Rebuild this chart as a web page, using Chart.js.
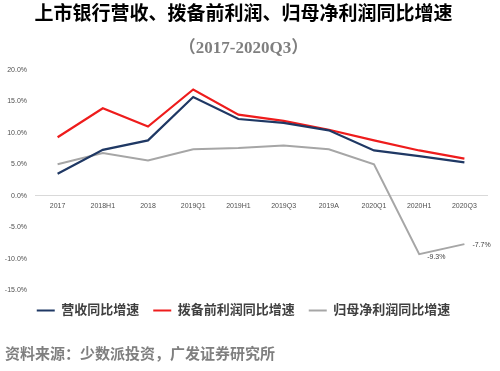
<!DOCTYPE html>
<html>
<head>
<meta charset="utf-8">
<script src="https://cdn.jsdelivr.net/npm/chart.js@4.4.0/dist/chart.umd.min.js"></script>
<style>
  html, body { margin: 0; padding: 0; background: #fff; }
  #wrap { position: relative; width: 500px; height: 371px; }
  #source {
    position: absolute; left: 5px; top: 342px;
    font: bold 15px 'Liberation Serif', 'Noto Sans CJK SC', serif;
    color: #7f7f7f; white-space: nowrap;
  }
</style>
</head>
<body>
<div id="wrap">
  <canvas id="myChart" width="500" height="371"></canvas>
  <div id="source">资料来源：少数派投资，广发证券研究所</div>
</div>
<script>
// categories and series (%)
var periods = ["2017", "2018H1", "2018", "2019Q1", "2019H1", "2019Q3", "2019A", "2020Q1", "2020H1", "2020Q3"];
var revenue = [3.5, 7.3, 8.8, 15.7, 12.2, 11.6, 10.4, 7.2, 6.3, 5.3];
var preProvision = [9.3, 13.9, 11.0, 16.9, 12.9, 11.9, 10.5, 8.8, 7.2, 5.9];
var netProfit = [5.0, 6.8, 5.6, 7.4, 7.6, 8.0, 7.4, 5.0, -9.3, -7.7];
var seriesNames = ["营收同比增速", "拨备前利润同比增速", "归母净利润同比增速"];
var yTicks = [-15, -10, -5, 0, 5, 10, 15, 20];
// points of the net profit series that carry a value label
var labelled = [8, 9];

var serifCJK = "'Liberation Serif', 'Noto Sans CJK SC', serif";

// value labels on the last two points of the grey line
var pointLabels = {
    id: 'pointLabels',
    afterDatasetsDraw: function(chart) {
        var meta = chart.getDatasetMeta(2);
        var ctx = chart.ctx;
        ctx.save();
        ctx.font = "7px 'Liberation Sans', sans-serif";
        ctx.fillStyle = '#404040';
        ctx.textAlign = 'left';
        ctx.textBaseline = 'middle';
        labelled.forEach(function(i, k) {
            var pt = meta.data[i];
            ctx.fillText(netProfit[i].toFixed(1) + '%', pt.x + 8, pt.y + (k == 0 ? 3 : 1));
        });
        ctx.restore();
    }
};

var ctx = document.getElementById('myChart');
var myChart = new Chart(ctx, {
    type: 'line',
    data: {
        labels: periods,
        datasets: [
            {
                label: seriesNames[0],
                data: revenue,
                borderColor: '#1f3864',
                backgroundColor: '#1f3864',
                borderWidth: 2.2,
                pointRadius: 0
            },
            {
                label: seriesNames[1],
                data: preProvision,
                borderColor: '#ee1c1c',
                backgroundColor: '#ee1c1c',
                borderWidth: 2.2,
                pointRadius: 0
            },
            {
                label: seriesNames[2],
                data: netProfit,
                borderColor: '#a6a6a6',
                backgroundColor: '#a6a6a6',
                borderWidth: 2,
                pointRadius: 0
            }
        ]
    },
    options: {
        responsive: false,
        animation: false,
        layout: { padding: { left: 0, right: 13, top: 0, bottom: 44 } },
        scales: {
            x: {
                position: { y: 0 },
                offset: true,
                afterFit: function(s) { s.height = 0; },
                grid: { display: false, drawTicks: false },
                border: { display: true, color: '#d9d9d9', width: 1 },
                ticks: {
                    padding: 6,
                    maxRotation: 0,
                    autoSkip: false,
                    color: '#505050',
                    font: { family: "'Liberation Sans', sans-serif", size: 7 }
                }
            },
            y: {
                min: -15,
                max: 20,
                afterFit: function(s) { s.width = 35; },
                afterBuildTicks: function(s) {
                    s.ticks = yTicks.map(function(v) { return { value: v }; });
                },
                grid: { display: false, drawTicks: false },
                border: { display: false },
                ticks: {
                    padding: 8,
                    color: '#505050',
                    font: { family: "'Liberation Sans', sans-serif", size: 7 },
                    callback: function(v) { return v.toFixed(1) + '%'; }
                }
            }
        },
        plugins: {
            title: {
                display: true,
                text: '上市银行营收、拨备前利润、归母净利润同比增速',
                color: '#000',
                font: { family: serifCJK, size: 19, weight: 'bold' },
                padding: { top: 4, bottom: 6 }
            },
            subtitle: {
                display: true,
                text: '（2017-2020Q3）',
                color: '#7f7f7f',
                font: { family: serifCJK, size: 17, weight: 'bold' },
                padding: { top: 6, bottom: 10.8 }
            },
            legend: {
                position: 'bottom',
                labels: {
                    boxWidth: 18,
                    boxHeight: 2,
                    padding: 14,
                    color: '#404040',
                    font: { family: serifCJK, size: 13, weight: 'bold' },
                    generateLabels: function(chart) {
                        var items = Chart.defaults.plugins.legend.labels.generateLabels(chart);
                        items.forEach(function(it) {
                            it.lineWidth = 0;
                            it.fillStyle = it.strokeStyle;
                        });
                        return items;
                    }
                }
            },
            tooltip: { enabled: false }
        }
    },
    plugins: [pointLabels]
});
</script>
</body>
</html>
